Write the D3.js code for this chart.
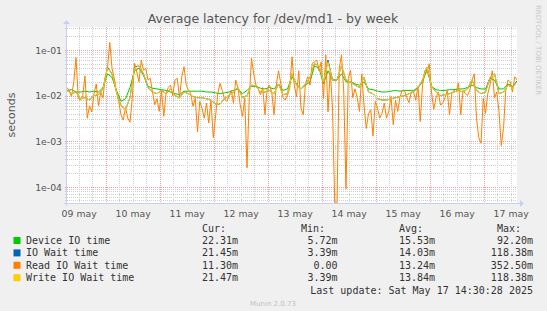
<!DOCTYPE html>
<html>
<head>
<meta charset="utf-8">
<script src="https://cdn.jsdelivr.net/npm/d3@7"></script>
<style>
  body { margin: 0; background: #f0f0f0; }
  svg { display: block; }
</style>
</head>
<body>
<div id="chart-area"></div>
<script>
// series names / colours (munin default palette)
var seriesNames = ["Device IO time", "IO Wait time", "Read IO Wait time", "Write IO Wait time"];
var seriesColors = ["#00cc00", "#0066b3", "#ff8000", "#ffcc00"];

// legend numbers
var curVals = ["22.31m", "21.45m", "11.30m", "21.47m"];
var minVals = ["5.72m", "3.39m", "0.00", "3.39m"];
var avgVals = ["15.53m", "14.03m", "13.24m", "13.84m"];
var maxVals = ["92.20m", "118.38m", "352.50m", "118.38m"];

// y ticks
var yTickValues = [1e-4, 1e-3, 1e-2, 1e-1];
var yTickLabels = ["1e-04", "1e-03", "1e-02", "1e-01"];

// read io wait, one value per hour, in ms (0 = nothing)
var readWait = [15,13,9.5,20,68,8.7,8,10,27,3.2,
    6,4.4,11,18,6,12,9,26,40,147,
    40,24,12,7.4,3.8,2.9,5.5,3.2,2.6,8.7,
    51,33,20,60,36,40,22,24,12,6.3,
    8.5,4.5,13,3.5,11,15,17,10,22,24,
    9,26,43,17,13,11,5.8,8.7,1.6,7.4,
    5.3,3.2,6.8,2.5,8,1.2,3.4,11,18.6,13,
    8.5,7.5,9.5,13,6.8,22,14.5,6.2,3.5,8.7,
    0.26,9,66,29,17,14,10.3,15,3.8,14.5,
    17,12,3.8,17,35,18.6,9,8,10.3,14.5,
    71,17,9.5,35,5.3,3.8,18.6,26,17,51,
    55,60,35,55,8.7,78,4.4,35,5.3,0,
    0,40,78,12,0.09,24,36,9,14,9,
    4.5,30,6.2,1.9,4,4.9,1.3,7.4,5.3,3.2,
    4.1,6.8,3.2,4.5,9.5,2.3,8,4.5,9.5,13,
    13,9,7,12,12,8,16,2.7,17,35,
    31,50,12,5,9,12,6.2,6.8,9,13,
    3.8,11,13,12,19,3.8,13,11,10,13,
    22,30,3.2,1.2,0.9,8.7,4.1,11,17,35,
    9,12,4.5,0.8,1.9,13,22,20,12,26,
    22];

// the other three, one value every 2 hours, in ms
var deviceIO = [13,13.5,12,12,12.5,12,12.5,12,15,30,
    25,13,7.5,8.5,15,35,40,28,16,14.5,
    14,13.5,13,12,11,10.5,12.5,12.5,12.5,12.5,
    12.5,12,12,11.5,11,11.5,12,13,14,11,
    13,16,16,14.5,14,15,14,18,13,14,
    26,18,14,17,20,45,40,18,35,22,
    22,30,20,20,18,17,20,14,13.5,12.5,
    12,12,12.5,13,12.5,13,13,13,15,20,
    38,16,13.5,13,13,13.5,13.5,14,14,15,
    17,15,14,14,24,22,14,14,18,16,
    20];
var ioWait = [13,11,12,8.5,9,8,10,10.5,14,42,
    30,12,6,5,9,42,45,30,15,12,
    11,13,11,14,10,9,12,11,9.5,9,
    9,8.5,8,6.5,6.5,8.5,10,12,15,9,
    10,17,16,12,12,13,11,18,10.5,11,
    30,17,14,18,25,50,45,20,60,22,
    22,45,22,20,17,15,25,12,11,8.5,
    8,8,8.5,9,9.5,10,11,12,15,22,
    42,16,12,10,10.5,11,12,13,12,14,
    22,13,11,12,25,30,11,12,17,15,
    21];
var writeWait = [13,11,12,8.5,9,8,10,10.5,14,40,
    30,12,6,5,9,40,45,30,15,12,
    11,13,11,14,10,9,12,11,9.5,9,
    9,8.5,8,6.5,6.5,8.5,10,12,15,9,
    10,17,16,12,12,13,11,18,10.5,11,
    30,17,14,18,25,50,45,20,55,22,
    22,45,22,20,17,15,25,12,11,8.5,
    8,8,8.5,9,9.5,10,11,12,15,22,
    42,16,12,10,10.5,11,12,13,12,14,
    22,13,11,12,25,30,11,12,17,15,
    20];

var W = 547, H = 311;
var margin = { left: 67, top: 27 };
var width = 450, height = 176;
var hour = 3600 * 1000;
var t0 = new Date(Date.UTC(2025, 4, 9, 6, 50));
var t1 = new Date(t0.getTime() + 200 * hour);

var svg = d3.select("#chart-area").append("svg")
    .attr("width", W)
    .attr("height", H)
    .style("font-family", "'DejaVu Sans', sans-serif");

svg.append("rect").attr("width", W).attr("height", H).attr("fill", "#f0f0f0");

// title
svg.append("text")
    .attr("x", 273)
    .attr("y", 23)
    .attr("text-anchor", "middle")
    .attr("font-size", "12.5px")
    .attr("fill", "#555")
    .text("Average latency for /dev/md1 - by week");

// watermark
svg.append("text")
    .attr("transform", "translate(536,5) rotate(90)")
    .attr("font-size", "7px")
    .attr("fill", "#c8c8c8")
    .text("RRDTOOL / TOBI OETIKER");

var g = svg.append("g")
    .attr("transform", "translate(" + margin.left + "," + margin.top + ")");

g.append("rect")
    .attr("width", width)
    .attr("height", height)
    .attr("fill", "#fff");

var x = d3.scaleUtc().domain([t0, t1]).range([0, width]);
var y = d3.scaleLog().domain([4.4e-5, 0.32]).range([height, 0]);

// horizontal grid
var minorY = [];
[1e-5, 1e-4, 1e-3, 1e-2, 1e-1].forEach(function (d) {
    for (var m = 2; m <= 9; m++) {
        var v = m * d;
        if (v > y.domain()[0] && v < y.domain()[1]) minorY.push(v);
    }
});
g.selectAll(".ygrid-minor").data(minorY).enter().append("line")
    .attr("x1", -2).attr("x2", width)
    .attr("y1", function (d) { return Math.round(y(d)) + 0.5; })
    .attr("y2", function (d) { return Math.round(y(d)) + 0.5; })
    .attr("stroke", "#cfcfcf")
    .attr("stroke-dasharray", "1,1");
g.selectAll(".ygrid-major").data(yTickValues).enter().append("line")
    .attr("x1", -2).attr("x2", width)
    .attr("y1", function (d) { return Math.round(y(d)) + 0.5; })
    .attr("y2", function (d) { return Math.round(y(d)) + 0.5; })
    .attr("stroke", "#e8a0a0")
    .attr("stroke-dasharray", "1,1");

// vertical grid, every 6 hours, red at midnight
var sixHours = d3.utcHour.every(6).range(t0, t1);
g.selectAll(".xgrid").data(sixHours).enter().append("line")
    .attr("x1", function (d) { return Math.round(x(d)) + 0.5; })
    .attr("x2", function (d) { return Math.round(x(d)) + 0.5; })
    .attr("y1", 0).attr("y2", height + 2)
    .attr("stroke", function (d) { return d.getUTCHours() === 0 ? "#e8a0a0" : "#cfcfcf"; })
    .attr("stroke-dasharray", "1,1");

// lines
var clip = g.append("clipPath").attr("id", "plot-clip");
clip.append("rect").attr("width", width).attr("height", height + 1);

var yMin = y.domain()[0];
function makeLine(step) {
    return d3.line()
        .x(function (d, i) { return x(new Date(t0.getTime() + i * step * hour)); })
        .y(function (d) { return y(Math.max(d / 1000, yMin)); });
}
var allSeries = [
    { values: deviceIO, step: 2 },
    { values: ioWait, step: 2 },
    { values: readWait, step: 1 },
    { values: writeWait, step: 2 }
];
var lines = g.append("g").attr("clip-path", "url(#plot-clip)");
allSeries.forEach(function (s, i) {
    lines.append("path")
        .attr("d", makeLine(s.step)(s.values))
        .attr("fill", "none")
        .attr("stroke", seriesColors[i])
        .attr("stroke-width", 1);
});

// axes lines + arrows
var axisColor = "#c8cff5";
g.append("line").attr("x1", -3).attr("x2", width + 3)
    .attr("y1", height + 0.5).attr("y2", height + 0.5)
    .attr("stroke", axisColor);
g.append("line").attr("x1", -0.5).attr("x2", -0.5)
    .attr("y1", height + 3).attr("y2", -3)
    .attr("stroke", axisColor);
g.append("path").attr("d", "M" + (width + 3) + "," + (height - 3) + "L" + (width + 7) + "," + (height + 0.5) + "L" + (width + 3) + "," + (height + 4) + "Z")
    .attr("fill", axisColor);
g.append("path").attr("d", "M-4,-3L-0.5,-7L3,-3Z")
    .attr("fill", axisColor);

// y tick labels
var yAxis = d3.axisLeft(y)
    .tickValues(yTickValues)
    .tickFormat(function (d, i) { return yTickLabels[i]; })
    .tickSize(0)
    .tickPadding(5);
var yg = g.append("g").call(yAxis);
yg.select(".domain").remove();
yg.selectAll("text")
    .attr("font-family", "'DejaVu Sans', sans-serif")
    .attr("font-size", "9.3px")
    .attr("fill", "#555")
    .attr("dy", "0.36em");

// x tick labels at noon
var noons = d3.utcDay.range(d3.utcDay.floor(t0), t1)
    .map(function (d) { return d3.utcHour.offset(d, 12); })
    .filter(function (d) { return d >= t0 && d <= t1; });
var xAxis = d3.axisBottom(x)
    .tickValues(noons)
    .tickFormat(function (d) { return d3.utcFormat("%d %b")(d).toLowerCase(); })
    .tickSize(0)
    .tickPadding(7);
var xg = g.append("g").attr("transform", "translate(0," + height + ")").call(xAxis);
xg.select(".domain").remove();
xg.selectAll("text")
    .attr("font-family", "'DejaVu Sans', sans-serif")
    .attr("font-size", "9.3px")
    .attr("fill", "#555");

// y label
svg.append("text")
    .attr("transform", "translate(15,115) rotate(-90)")
    .attr("text-anchor", "middle")
    .attr("font-size", "11px")
    .attr("fill", "#555")
    .text("seconds");

// legend
var mono = "'DejaVu Sans Mono', monospace";
var lg = svg.append("g")
    .attr("font-family", mono)
    .attr("font-size", "10px")
    .attr("fill", "#333");
var headers = ["Cur:", "Min:", "Avg:", "Max:"];
var headerX = [202, 301, 399, 497];
var colEnd = [238, 337.5, 435, 533];
headers.forEach(function (h, i) {
    lg.append("text").attr("x", headerX[i]).attr("y", 231.5).text(h);
});
var cols = [curVals, minVals, avgVals, maxVals];
seriesNames.forEach(function (name, i) {
    var yy = 244 + i * 12.4;
    lg.append("rect")
        .attr("x", 13.5).attr("y", yy - 7)
        .attr("width", 7).attr("height", 7)
        .attr("fill", seriesColors[i]);
    lg.append("text").attr("x", 26).attr("y", yy).text(name);
    cols.forEach(function (c, j) {
        lg.append("text")
            .attr("x", colEnd[j]).attr("y", yy)
            .attr("text-anchor", "end")
            .text(c[i]);
    });
});
lg.append("text")
    .attr("x", 533).attr("y", 293.5)
    .attr("text-anchor", "end")
    .text("Last update: Sat May 17 14:30:28 2025");

svg.append("text")
    .attr("x", 273).attr("y", 306)
    .attr("text-anchor", "middle")
    .attr("font-size", "7px")
    .attr("fill", "#c0c0c0")
    .text("Munin 2.0.73");
</script>
</body>
</html>
